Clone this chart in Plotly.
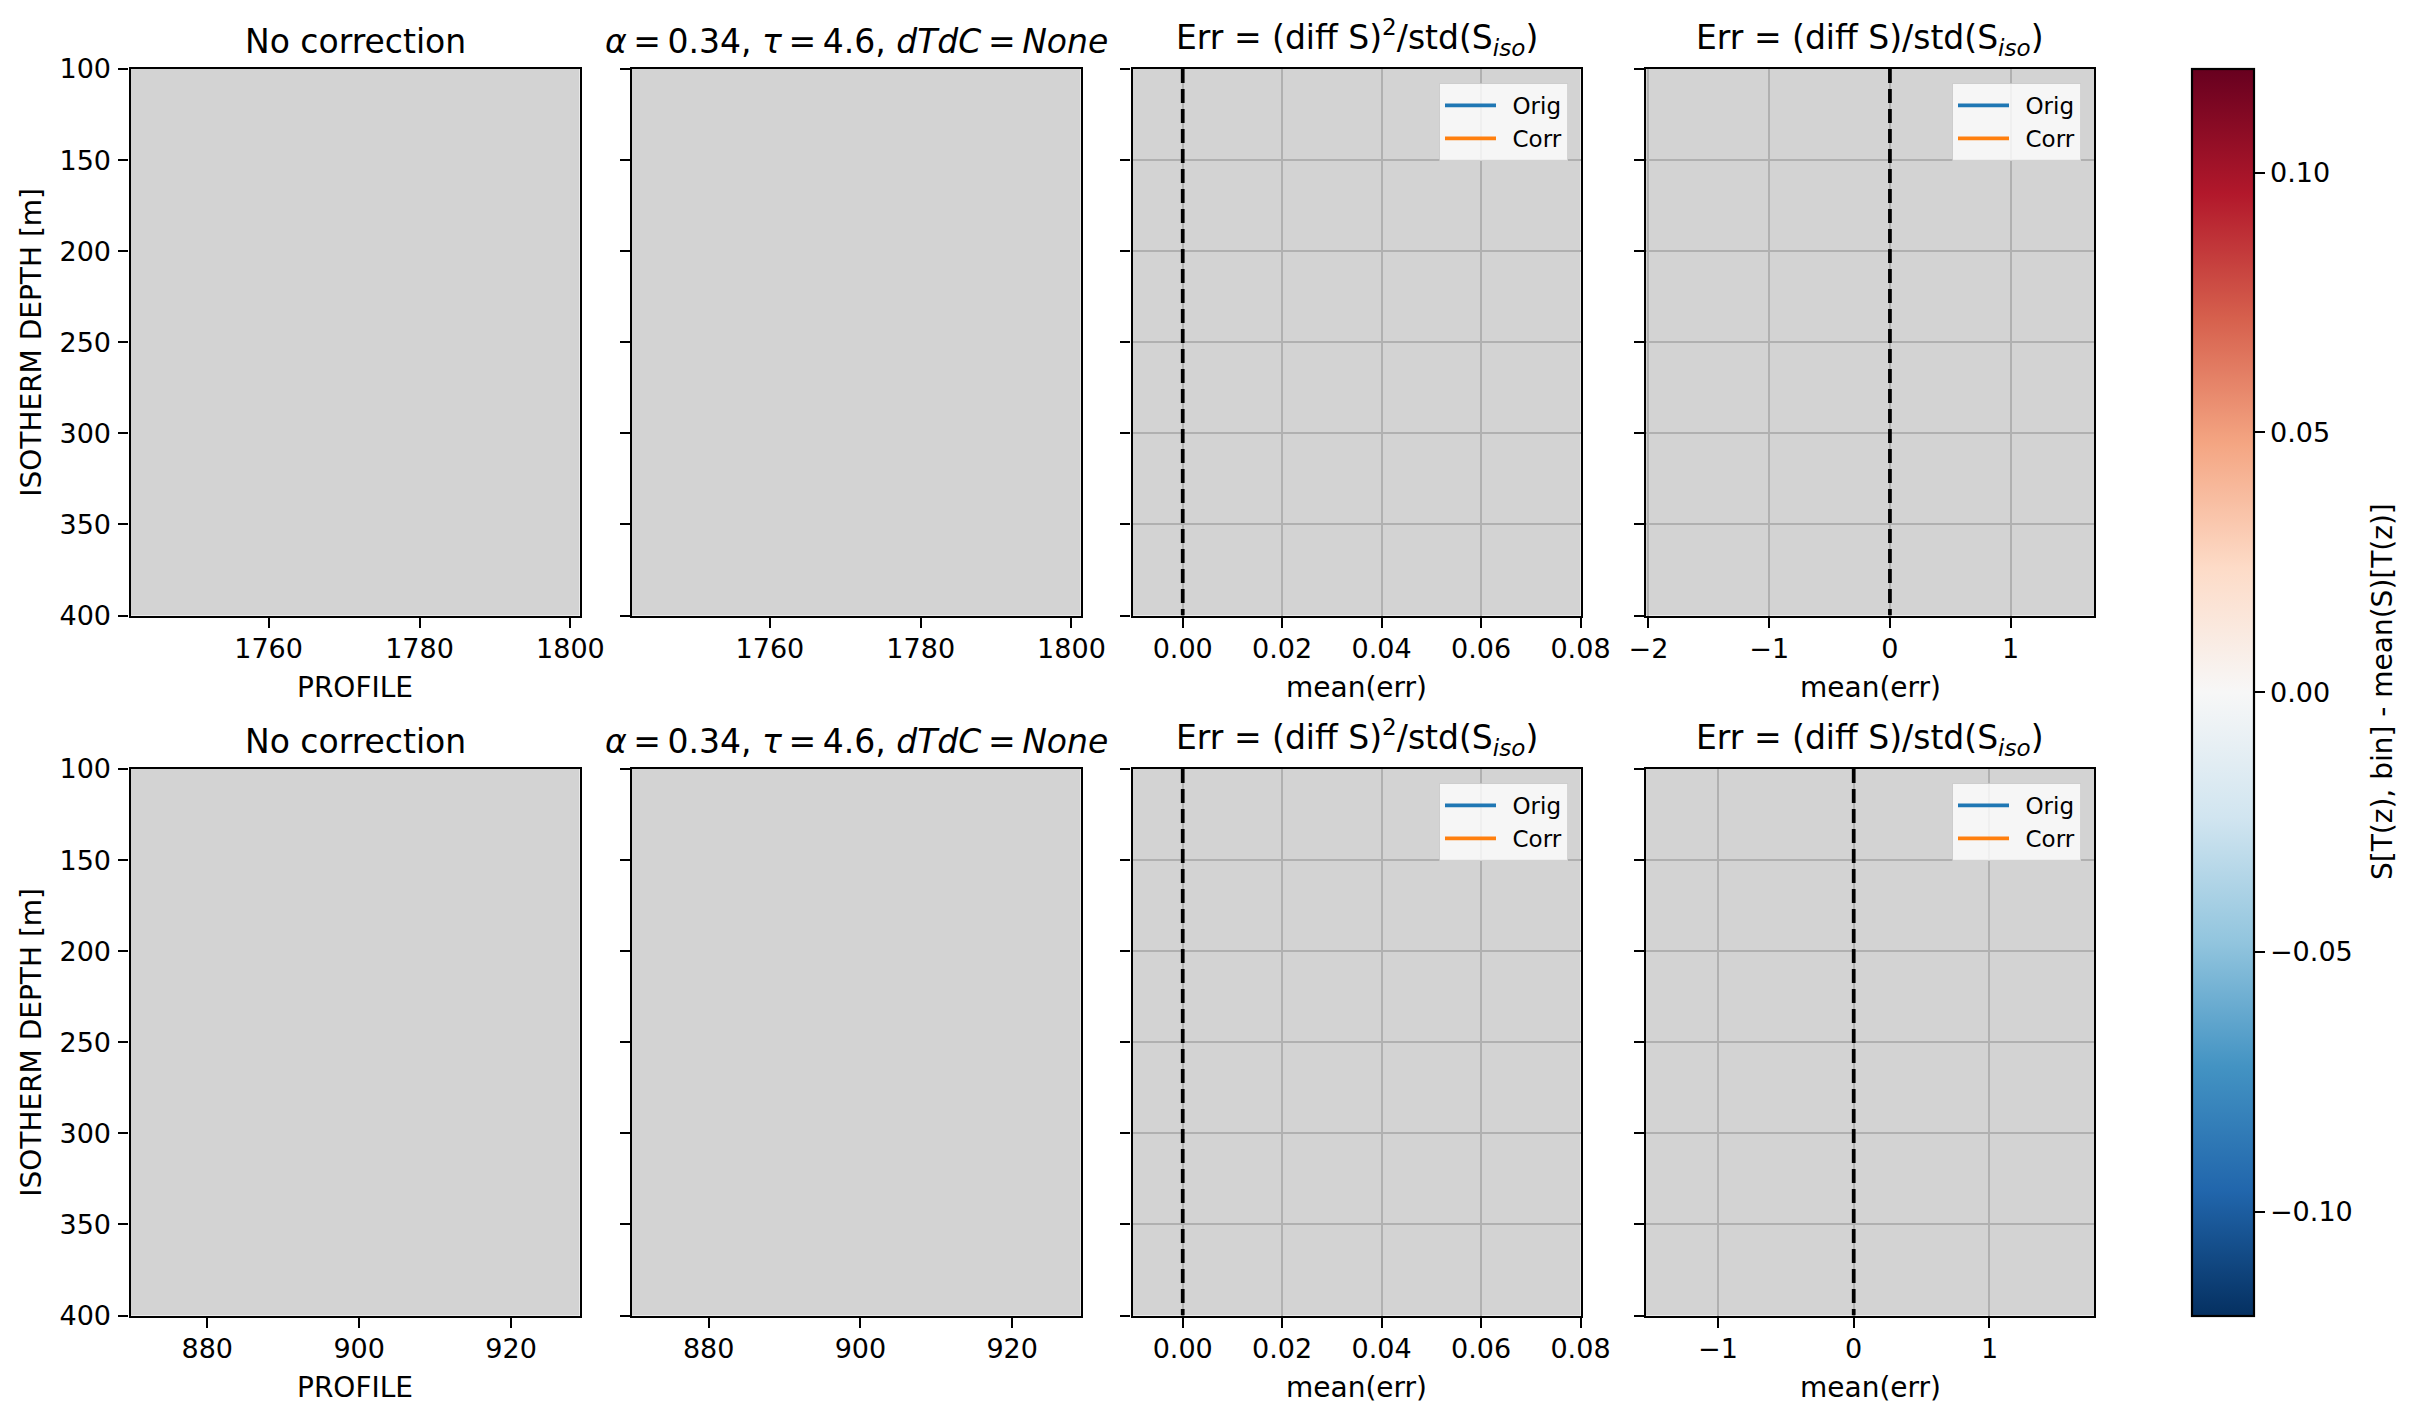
import plotly.graph_objects as go

W, H = 2417, 1423
FONT = "DejaVu Sans"

# ---------------- data ----------------
depth_range = [400, 100]          # isotherm depth (reversed axis)
depth_ticks = [100, 150, 200, 250, 300, 350, 400]

top_profile_range = [1741.7, 1801.2]
top_profile_ticks = [1760, 1780, 1800]
bot_profile_range = [869.9, 929.0]
bot_profile_ticks = [880, 900, 920]

err2_range = [-0.0101, 0.08]
err2_ticks = [0.00, 0.02, 0.04, 0.06, 0.08]
err1_top_range = [-2.02, 1.69]
err1_top_ticks = [-2, -1, 0, 1]
err1_bot_range = [-1.53, 1.77]
err1_bot_ticks = [-1, 0, 1]

# empty (all-NaN) section fields
section_depth = [100, 400]
top_section_profiles = [1742, 1801]
bot_section_profiles = [870, 929]
section_values = [[None, None], [None, None]]

# error profiles (all NaN in the source)
err_depth = [None]
err_orig = [None]
err_corr = [None]
zero_x = [0, 0]
zero_y = [100, 400]

cbar_min, cbar_max = -0.12, 0.12
cbar_ticks = [-0.10, -0.05, 0.00, 0.05, 0.10]

RdBu_r = ['rgb(5,48,97)', 'rgb(33,102,172)', 'rgb(67,147,195)', 'rgb(146,197,222)',
          'rgb(209,229,240)', 'rgb(247,247,247)', 'rgb(253,219,199)', 'rgb(244,165,130)',
          'rgb(214,96,77)', 'rgb(178,24,43)', 'rgb(103,0,31)']

# ---------------- layout geometry (pixels) ----------------
cols_px = [(130.5, 579.5), (632, 1080.5), (1132.5, 1580.5), (1646, 2094)]
rows_px = [(69, 615.5), (769, 1315.5)]

TICK_FS, LABEL_FS, TITLE_FS, LEG_FS = 27, 28, 33, 23


def xd(a, b):
    return [a / W, b / W]


def yd(a, b):
    return [1 - b / H, 1 - a / H]


fig = go.Figure()

axis_common = dict(showline=True, linecolor="black", linewidth=2.2, mirror=True,
                   ticks="outside", ticklen=10, tickwidth=2.2, tickcolor="black",
                   zeroline=False, automargin=False,
                   tickfont=dict(family=FONT, size=TICK_FS, color="black"))

layout = dict(width=W, height=H,
              margin=dict(l=0, r=0, t=0, b=0, pad=0, autoexpand=False),
              paper_bgcolor="white", plot_bgcolor="#d3d3d3",
              font=dict(family=FONT, size=LABEL_FS, color="black"),
              showlegend=True)

ann = []
titles = ["No correction",
          "<i>α</i>\u2009=\u20090.34, <i>τ</i>\u2009=\u20094.6, <i>dTdC</i>\u2009=\u2009<i>None</i>",
          "Err = (diff S)<sup>2</sup>/std(S<sub><i>iso</i></sub>)",
          "Err = (diff S)/std(S<sub><i>iso</i></sub>)"]

legend_names = ["legend", "legend2", "legend3", "legend4"]

idx = 0
for r, (rt, rb) in enumerate(rows_px):
    for c, (cl, cr) in enumerate(cols_px):
        idx += 1
        sfx = "" if idx == 1 else str(idx)
        xa = dict(axis_common, domain=xd(cl, cr), anchor="y" + sfx, ticklabelstandoff=-2)
        ya = dict(axis_common, domain=yd(rt, rb), anchor="x" + sfx,
                  range=depth_range, tickvals=depth_ticks, autorange=False,
                  ticklabelstandoff=2)
        if c in (0, 1):
            if r == 0:
                xa.update(range=top_profile_range, tickvals=top_profile_ticks)
            else:
                xa.update(range=bot_profile_range, tickvals=bot_profile_ticks)
        elif c == 2:
            xa.update(range=err2_range, tickvals=err2_ticks, tickformat=".2f")
        else:
            if r == 0:
                xa.update(range=err1_top_range, tickvals=err1_top_ticks)
            else:
                xa.update(range=err1_bot_range, tickvals=err1_bot_ticks)
        if c >= 2:
            xa.update(showgrid=True, gridcolor="#b0b0b0", gridwidth=2)
            ya.update(showgrid=True, gridcolor="#b0b0b0", gridwidth=2)
        else:
            xa.update(showgrid=False)
            ya.update(showgrid=False)
        if c != 0:
            ya.update(showticklabels=False)
        layout["xaxis" + sfx] = xa
        layout["yaxis" + sfx] = ya

        xref, yref = "x" + sfx, "y" + sfx
        if c < 2:
            fig.add_trace(go.Heatmap(
                x=top_section_profiles if r == 0 else bot_section_profiles,
                y=section_depth, z=section_values, coloraxis="coloraxis",
                xaxis=xref, yaxis=yref, hoverinfo="skip", showlegend=False))
        else:
            lg = legend_names[r * 2 + (c - 2)]
            fig.add_trace(go.Scatter(x=err_orig, y=err_depth, mode="lines",
                                     name="\u2002Orig",
                                     line=dict(color="#1f77b4", width=3.75),
                                     xaxis=xref, yaxis=yref, legend=lg))
            fig.add_trace(go.Scatter(x=err_corr, y=err_depth, mode="lines",
                                     name="\u2002Corr",
                                     line=dict(color="#ff7f0e", width=3.75),
                                     xaxis=xref, yaxis=yref, legend=lg))
            fig.add_trace(go.Scatter(x=zero_x, y=zero_y, mode="lines", showlegend=False,
                                     line=dict(color="black", width=3.75, dash="14px,6px"),
                                     xaxis=xref, yaxis=yref, hoverinfo="skip"))

        # titles
        ann.append(dict(text=titles[c], x=(cl + cr) / 2 / W, y=1 - rt / H,
                        xref="paper", yref="paper", xanchor="center", yanchor="bottom",
                        yshift=6, showarrow=False,
                        font=dict(family=FONT, size=TITLE_FS, color="black")))
        # x axis labels
        lab = {0: "PROFILE", 2: "mean(err)", 3: "mean(err)"}.get(c)
        if lab:
            ylab = 687 if r == 0 else 1387
            ann.append(dict(text=lab, x=(cl + cr) / 2 / W, y=1 - ylab / H,
                            xref="paper", yref="paper", xanchor="center", yanchor="middle",
                            showarrow=False,
                            font=dict(family=FONT, size=LABEL_FS, color="black")))
    # y axis label
    ann.append(dict(text="ISOTHERM DEPTH [m]", x=31.5 / W, y=1 - (rt + rb) / 2 / H,
                    xref="paper", yref="paper", xanchor="center", yanchor="middle",
                    textangle=-90, showarrow=False,
                    font=dict(family=FONT, size=LABEL_FS, color="black")))

# colour-bar carrier (no drawn markers: the section fields are all NaN)
fig.add_trace(go.Scatter(x=[None, None], y=[None, None], mode="markers",
                         marker=dict(color=[cbar_min, cbar_max], coloraxis="coloraxis"),
                         showlegend=False, hoverinfo="skip", xaxis="x", yaxis="y"))

# colorbar label
ann.append(dict(text="S[T(z), bin] - mean(S)[T(z)]", x=2382 / W, y=1 - 692 / H,
                xref="paper", yref="paper", xanchor="center", yanchor="middle",
                textangle=-90, showarrow=False,
                font=dict(family=FONT, size=LABEL_FS, color="black")))

layout["annotations"] = ann

cb_top, cb_bot = 69, 1315.5
layout["coloraxis"] = dict(
    colorscale=RdBu_r, cmin=cbar_min, cmax=cbar_max, showscale=True,
    colorbar=dict(x=2192 / W, xanchor="left", xpad=0, ypad=0,
                  y=1 - (cb_top + cb_bot) / 2 / H, yanchor="middle",
                  len=(cb_bot - cb_top) / H, lenmode="fraction",
                  thickness=62, thicknessmode="pixels",
                  outlinewidth=2.2, outlinecolor="black",
                  ticks="outside", ticklen=10, tickwidth=2.2, tickcolor="black",
                  tickvals=cbar_ticks, tickformat=".2f",
                  tickfont=dict(family=FONT, size=TICK_FS, color="black")))

leg_common = dict(xanchor="right", yanchor="top", bgcolor="rgba(255,255,255,0.8)",
                  bordercolor="rgba(204,204,204,0.8)", borderwidth=1,
                  font=dict(family=FONT, size=LEG_FS, color="black"),
                  xref="paper", yref="paper", itemwidth=51)
layout["legend"] = dict(leg_common, x=1568 / W, y=1 - 83 / H)
layout["legend2"] = dict(leg_common, x=2081 / W, y=1 - 83 / H)
layout["legend3"] = dict(leg_common, x=1568 / W, y=1 - 783 / H)
layout["legend4"] = dict(leg_common, x=2081 / W, y=1 - 783 / H)

fig.update_layout(**layout)
fig.write_html("out.html", config={"displayModeBar": False},
               post_script="document.body.style.margin='0px';")
